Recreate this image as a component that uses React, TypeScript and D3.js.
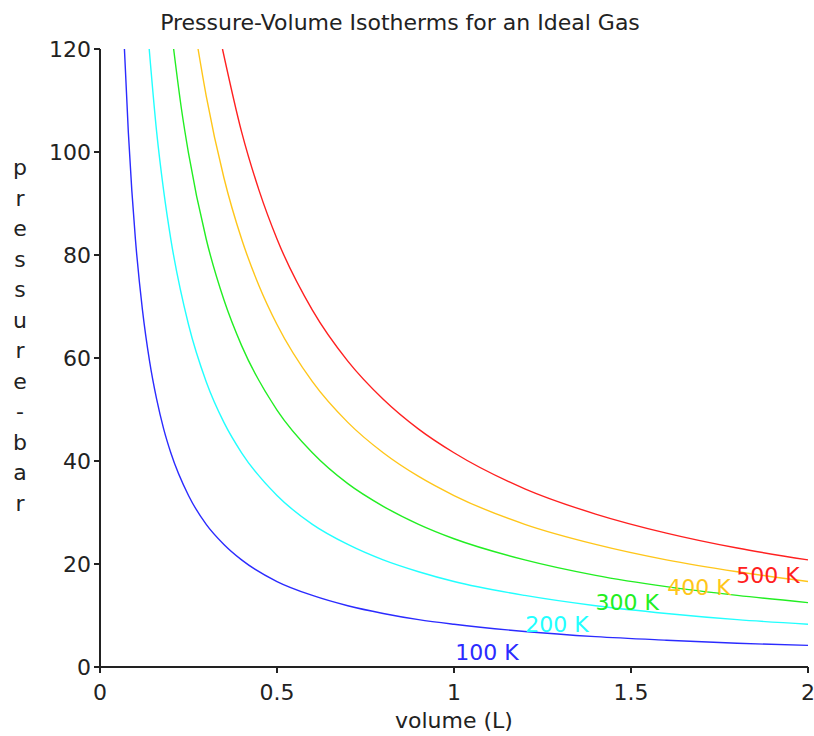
import React from "react";
import * as d3 from "d3";

const title = "Pressure-Volume Isotherms for an Ideal Gas";
const xLabel = "volume (L)";
const yLabelLetters = ["p", "r", "e", "s", "s", "u", "r", "e", "-", "b", "a", "r"];
const xTicks = [0, 0.5, 1, 1.5, 2];
const yTicks = [0, 20, 40, 60, 80, 100, 120];

const temps = ["100 K", "200 K", "300 K", "400 K", "500 K"];
const colors = ["#2b2bff", "#22ffff", "#22ee22", "#ffc61a", "#ff2020"];

const vol100 = [0.069, 0.08, 0.09, 0.1, 0.12, 0.14, 0.16, 0.18, 0.2, 0.25, 0.3, 0.35, 0.4, 0.5, 0.6, 0.7, 0.8, 0.9, 1.0, 1.2, 1.4, 1.6, 1.8, 2.0];
const p100 = [120, 103.9, 92.4, 83.1, 69.3, 59.4, 52.0, 46.2, 41.6, 33.3, 27.7, 23.8, 20.8, 16.6, 13.9, 11.9, 10.4, 9.2, 8.3, 6.9, 5.9, 5.2, 4.6, 4.2];

const vol200 = [0.139, 0.16, 0.18, 0.2, 0.25, 0.3, 0.35, 0.4, 0.5, 0.6, 0.7, 0.8, 0.9, 1.0, 1.2, 1.4, 1.6, 1.8, 2.0];
const p200 = [120, 103.9, 92.4, 83.1, 66.5, 55.4, 47.5, 41.6, 33.3, 27.7, 23.8, 20.8, 18.5, 16.6, 13.9, 11.9, 10.4, 9.2, 8.3];

const vol300 = [0.208, 0.23, 0.25, 0.3, 0.35, 0.4, 0.5, 0.6, 0.7, 0.8, 0.9, 1.0, 1.2, 1.4, 1.6, 1.8, 2.0];
const p300 = [120, 108.4, 99.8, 83.1, 71.3, 62.4, 49.9, 41.6, 35.6, 31.2, 27.7, 24.9, 20.8, 17.8, 15.6, 13.9, 12.5];

const vol400 = [0.277, 0.3, 0.35, 0.4, 0.45, 0.5, 0.6, 0.7, 0.8, 0.9, 1.0, 1.2, 1.4, 1.6, 1.8, 2.0];
const p400 = [120, 110.9, 95.0, 83.1, 73.9, 66.5, 55.4, 47.5, 41.6, 37.0, 33.3, 27.7, 23.8, 20.8, 18.5, 16.6];

const vol500 = [0.346, 0.4, 0.45, 0.5, 0.6, 0.7, 0.8, 0.9, 1.0, 1.2, 1.4, 1.6, 1.8, 2.0];
const p500 = [120, 103.9, 92.4, 83.1, 69.3, 59.4, 52.0, 46.2, 41.6, 34.6, 29.7, 26.0, 23.1, 20.8];

// label anchor data positions (volume, pressure)
const labelVol = [1.093, 1.291, 1.489, 1.692, 1.887];
const labelP = [1.4, 6.8, 11.1, 14.0, 16.3];

const volumes = [vol100, vol200, vol300, vol400, vol500];
const pressures = [p100, p200, p300, p400, p500];

const W = 814;
const H = 736;
const x0 = 100, x1 = 808, yTop = 49, yBot = 667;
const FONT = "'DejaVu Sans', sans-serif";

export default function App() {
  const x = d3.scaleLinear().domain([0, 2]).range([x0, x1]);
  const y = d3.scaleLinear().domain([0, 120]).range([yBot, yTop]);
  const line = d3
    .line<[number, number]>()
    .x((d) => x(d[0]))
    .y((d) => y(d[1]))
    .curve(d3.curveMonotoneX);

  return (
    <svg width={W} height={H} style={{ position: "absolute", left: 0, top: 0, background: "#fff" }}>
      <rect x={0} y={0} width={W} height={H} fill="#fff" />
      <defs>
        <clipPath id="plot">
          <rect x={x0} y={yTop} width={x1 - x0 + 2} height={yBot - yTop} />
        </clipPath>
      </defs>
      <text x={400} y={30} textAnchor="middle" fontFamily={FONT} fontSize={22} fill="#222">
        {title}
      </text>
      <g clipPath="url(#plot)">
        {volumes.map((vs, i) => (
          <path
            key={i}
            d={line(vs.map((v, j) => [v, pressures[i][j]] as [number, number])) || ""}
            fill="none"
            stroke={colors[i]}
            strokeWidth={1.4}
          />
        ))}
      </g>
      {temps.map((t, i) => (
        <text
          key={t}
          x={x(labelVol[i])}
          y={y(labelP[i])}
          textAnchor="middle"
          fontFamily={FONT}
          fontSize={22}
          fill={colors[i]}
        >
          {t}
        </text>
      ))}
      {/* axes */}
      <line x1={x0} y1={yTop} x2={x0} y2={yBot + 6} stroke="#222" strokeWidth={2} />
      <line x1={x0 - 6} y1={yBot} x2={x1} y2={yBot} stroke="#222" strokeWidth={2} />
      {yTicks.map((t) => (
        <g key={t}>
          <line x1={x0 - 6} x2={x0} y1={y(t)} y2={y(t)} stroke="#222" strokeWidth={2} />
          <text x={x0 - 9} y={y(t) + 8} textAnchor="end" fontFamily={FONT} fontSize={22} fill="#222">
            {t}
          </text>
        </g>
      ))}
      {xTicks.map((t) => (
        <g key={t}>
          <line x1={x(t)} x2={x(t)} y1={yBot} y2={yBot + 6} stroke="#222" strokeWidth={2} />
          <text x={x(t)} y={700} textAnchor="middle" fontFamily={FONT} fontSize={22} fill="#222">
            {t}
          </text>
        </g>
      ))}
      <text x={454} y={728} textAnchor="middle" fontFamily={FONT} fontSize={22} fill="#222">
        {xLabel}
      </text>
      {yLabelLetters.map((c, i) => (
        <text key={i} x={20} y={175 + i * 30.5} textAnchor="middle" fontFamily={FONT} fontSize={22} fill="#222">
          {c}
        </text>
      ))}
    </svg>
  );
}
